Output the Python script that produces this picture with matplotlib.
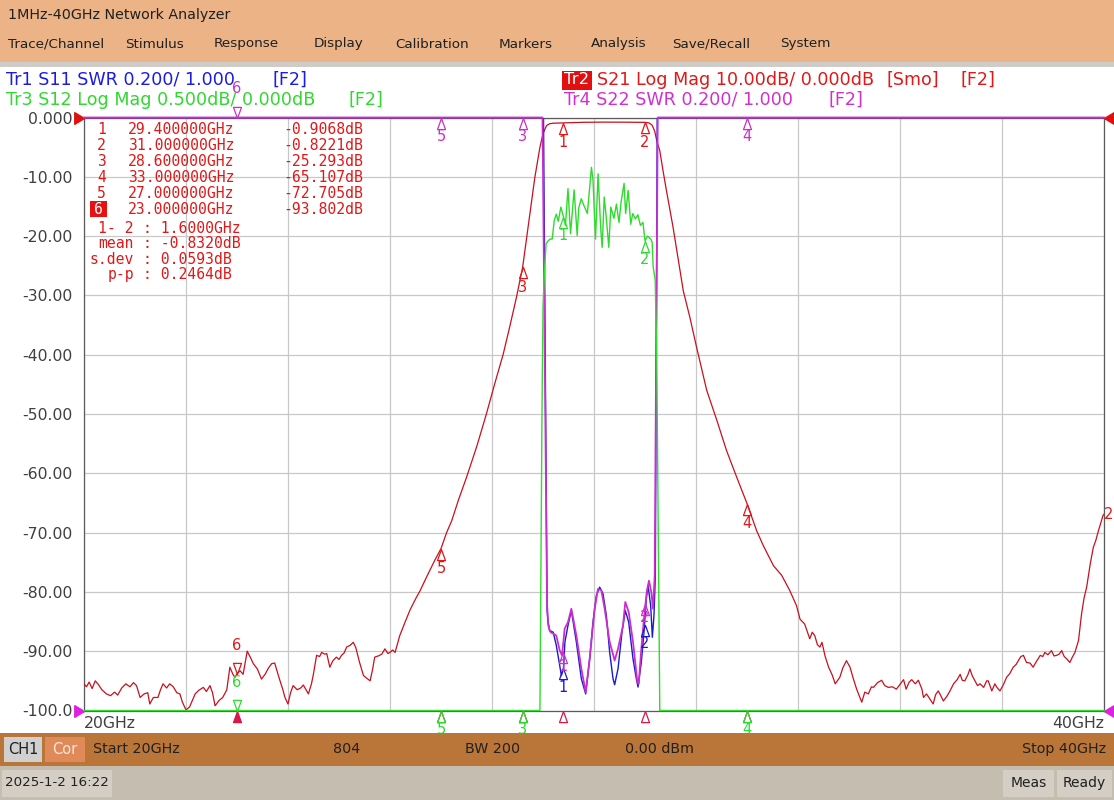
import numpy as np
import matplotlib
matplotlib.use('Agg')
import matplotlib.pyplot as plt
from matplotlib.patches import Rectangle
from matplotlib.path import Path

W, H = 1114, 800

# ---------------- data ----------------
red_freq = [20.00, 20.05, 20.10, 20.16, 20.22, 20.28, 20.35, 20.44, 20.52, 20.60, 20.66, 20.74, 20.82, 20.90,
            20.97, 21.03, 21.10, 21.18, 21.25, 21.29, 21.36, 21.45, 21.50, 21.55, 21.62, 21.68, 21.75, 21.82,
            21.88, 21.93, 22.00, 22.07, 22.12, 22.18, 22.25, 22.34, 22.40, 22.47, 22.52, 22.57, 22.65, 22.72,
            22.80, 22.86, 22.92, 22.96, 23.00, 23.06, 23.12, 23.20, 23.26, 23.32, 23.40, 23.48, 23.55, 23.62,
            23.68, 23.74, 23.79, 23.84, 23.90, 23.94, 24.00, 24.05, 24.10, 24.18, 24.25, 24.30, 24.36, 24.40,
            24.46, 24.50, 24.56, 24.62, 24.66, 24.72, 24.76, 24.82, 24.88, 24.95, 25.00, 25.05, 25.10, 25.15,
            25.22, 25.28, 25.33, 25.40, 25.48, 25.55, 25.61, 25.66, 25.70, 25.77, 25.84, 25.90, 25.96, 26.00,
            26.05, 26.10, 26.19, 26.30, 26.39, 26.50, 26.59, 26.70, 26.78, 26.87, 27.00, 27.11, 27.21, 27.35,
            27.50, 27.70, 27.89, 28.05, 28.22, 28.35, 28.48, 28.60, 28.68, 28.76, 28.84, 28.94, 29.00, 29.07,
            29.13, 29.20, 29.40, 29.60, 29.80, 30.00, 30.20, 30.40, 30.60, 30.80, 31.00, 31.08, 31.14, 31.19,
            31.23, 31.29, 31.35, 31.42, 31.55, 31.65, 31.75, 31.88, 32.01, 32.21, 32.41, 32.60, 32.80, 33.00,
            33.19, 33.32, 33.52, 33.68, 33.84, 33.97, 34.04, 34.13, 34.23, 34.28, 34.33, 34.38, 34.43, 34.47,
            34.53, 34.60, 34.67, 34.73, 34.78, 34.82, 34.88, 34.95, 35.02, 35.08, 35.15, 35.25, 35.31, 35.38,
            35.44, 35.48, 35.56, 35.64, 35.70, 35.77, 35.85, 35.93, 36.00, 36.07, 36.12, 36.18, 36.23, 36.30,
            36.36, 36.43, 36.46, 36.52, 36.58, 36.65, 36.70, 36.75, 36.80, 36.85, 36.92, 36.98, 37.05, 37.12,
            37.18, 37.22, 37.27, 37.33, 37.37, 37.42, 37.47, 37.52, 37.57, 37.64, 37.70, 37.73, 37.80, 37.86,
            37.90, 37.96, 38.03, 38.09, 38.15, 38.22, 38.28, 38.32, 38.37, 38.42, 38.48, 38.55, 38.61, 38.67,
            38.75, 38.80, 38.84, 38.90, 38.97, 39.02, 39.07, 39.12, 39.17, 39.22, 39.27, 39.33, 39.38, 39.43,
            39.50, 39.56, 39.61, 39.66, 39.70, 39.73, 39.79, 39.84, 39.89, 39.94, 39.98, 40.00]
red_db = [-95.5, -96.0, -95.2, -96.3, -95.0, -95.6, -96.5, -97.2, -97.5, -96.9, -97.4, -96.2, -95.5, -96.0,
          -95.3, -95.8, -97.8, -97.2, -97.0, -98.9, -97.8, -97.8, -96.5, -95.5, -96.2, -95.5, -96.0, -97.0,
          -97.2, -98.6, -99.9, -99.4, -98.4, -97.2, -96.6, -96.1, -96.8, -95.8, -97.0, -99.2, -98.3, -97.8,
          -96.5, -92.7, -93.9, -94.4, -93.8, -93.3, -93.9, -90.0, -91.0, -92.1, -93.0, -94.7, -93.9, -92.8,
          -92.1, -92.0, -93.5, -94.9, -96.5, -97.8, -98.9, -97.0, -95.8, -96.5, -96.2, -95.7, -96.6, -97.2,
          -95.5, -93.8, -90.7, -90.9, -90.2, -90.5, -90.4, -92.7, -91.6, -91.0, -91.4, -90.7, -90.3, -89.3,
          -89.0, -88.5, -89.4, -91.8, -94.1, -94.6, -95.0, -93.0, -91.0, -90.8, -90.5, -89.6, -90.4, -90.2,
          -89.8, -90.2, -87.4, -85.0, -83.1, -81.2, -79.8, -77.8, -76.4, -74.8, -72.7, -70.0, -68.0, -64.3,
          -60.7, -55.5, -50.0, -45.0, -39.9, -35.2, -30.3, -25.3, -20.2, -15.0, -10.1, -5.0, -2.75, -1.35,
          -1.05, -0.96, -0.91, -0.86, -0.81, -0.79, -0.78, -0.78, -0.79, -0.80, -0.82, -0.92, -1.3, -2.3,
          -3.9, -5.6, -8.8, -12.3, -18.5, -23.8, -29.2, -33.7, -38.7, -46.0, -51.1, -56.2, -60.7, -65.1,
          -69.7, -72.2, -75.6, -77.2, -79.8, -82.3, -84.6, -85.4, -87.9, -86.8, -87.4, -88.9, -89.3, -88.5,
          -90.8, -92.7, -94.0, -95.5, -94.9, -94.4, -92.8, -91.6, -92.7, -94.5, -96.4, -98.6, -96.9, -97.2,
          -96.0, -96.1, -95.3, -94.9, -95.8, -96.1, -96.0, -96.4, -95.6, -94.8, -96.4, -95.2, -94.8, -95.5,
          -94.9, -96.4, -97.8, -97.2, -98.0, -98.9, -97.3, -96.7, -97.5, -98.4, -97.6, -96.7, -95.5, -94.8,
          -93.9, -94.9, -95.0, -94.0, -93.0, -94.2, -95.0, -95.8, -95.5, -96.1, -95.0, -95.0, -96.7, -95.5,
          -96.1, -96.7, -95.6, -94.4, -93.8, -92.7, -92.2, -91.6, -90.9, -90.7, -91.9, -92.0, -92.7, -91.8,
          -90.7, -90.9, -90.2, -90.6, -89.9, -90.8, -90.7, -90.5, -89.9, -90.9, -91.3, -91.9, -91.0, -90.2,
          -88.2, -83.7, -81.0, -79.2, -77.0, -75.3, -72.5, -71.3, -69.7, -68.3, -67.1, -66.9]

# S12 (Log Mag, 0.5 dB/div, displayed values clipped at -5 dB)
green_freq = [20.00, 28.94, 28.96, 28.98, 29.00, 29.03, 29.06, 29.10, 29.14, 29.18, 29.22, 29.26, 29.30, 29.35,
              29.40, 29.44, 29.49, 29.54, 29.61, 29.67, 29.70, 29.75, 29.80, 29.87, 29.95, 29.98, 30.03, 30.08,
              30.13, 30.16, 30.20, 30.24, 30.29, 30.33, 30.39, 30.44, 30.49, 30.53, 30.59, 30.62, 30.67, 30.72,
              30.76, 30.81, 30.86, 30.91, 30.96, 31.00, 31.05, 31.11, 31.14, 31.16, 31.20, 31.23, 31.26, 31.29,
              40.00]
green_db = [-5.0, -5.0, -3.75, -2.5, -1.6, -1.29, -1.065, -1.04, -1.025, -1.025, -0.87, -0.815, -0.875, -0.755,
            -0.835, -0.91, -0.60, -0.98, -0.61, -0.995, -0.765, -0.685, -0.74, -0.81, -0.42, -0.525, -1.025, -0.475,
            -0.925, -1.095, -0.67, -0.84, -1.095, -0.755, -0.85, -0.73, -0.885, -0.715, -0.555, -0.81, -0.615, -0.90,
            -0.81, -0.855, -0.82, -0.91, -0.885, -1.04, -1.00, -1.025, -1.05, -1.26, -1.37, -2.0, -3.5, -5.0,
            -5.0]

# S11 SWR (0.2/div, reference 1.000 at bottom, displayed values clipped at 3.0)
blue_freq = [20.00, 29.01, 29.08, 29.10, 29.13, 29.20, 29.26, 29.31, 29.36, 29.40, 29.43, 29.49, 29.556, 29.654,
             29.752, 29.837, 29.915, 29.98, 30.046, 30.111, 30.176, 30.242, 30.307, 30.373, 30.405, 30.471,
             30.549, 30.614, 30.68, 30.765, 30.83, 30.863, 30.928, 30.98, 31.026, 31.059, 31.111, 31.144,
             31.176, 31.203, 31.24, 40.00]
blue_swr = [3.0, 3.0, 1.34, 1.30, 1.27, 1.264, 1.22, 1.17, 1.118, 1.14, 1.231, 1.287, 1.337, 1.231,
            1.107, 1.056, 1.174, 1.298, 1.388, 1.416, 1.394, 1.321, 1.197, 1.107, 1.087, 1.141,
            1.264, 1.337, 1.298, 1.174, 1.107, 1.079, 1.163, 1.264, 1.377, 1.422, 1.354, 1.247,
            1.321, 1.455, 3.0, 3.0]

# S22 SWR
mag_freq = [20.00, 28.99, 29.08, 29.10, 29.13, 29.15, 29.26, 29.327, 29.373, 29.425, 29.49, 29.556, 29.654,
            29.752, 29.837, 29.915, 30.013, 30.078, 30.144, 30.209, 30.307, 30.405, 30.471, 30.569, 30.614,
            30.68, 30.765, 30.85, 30.876, 30.928, 30.98, 31.033, 31.078, 31.124, 31.157, 31.19, 31.25, 40.00]
mag_swr = [3.0, 3.0, 1.36, 1.29, 1.27, 1.264, 1.253, 1.203, 1.186, 1.276, 1.298, 1.343, 1.253,
           1.141, 1.062, 1.174, 1.343, 1.41, 1.405, 1.343, 1.231, 1.169, 1.208, 1.287, 1.366,
           1.332, 1.231, 1.096, 1.09, 1.208, 1.309, 1.399, 1.438, 1.399, 1.343, 1.455, 3.0, 3.0]

marker_ids = ['1', '2', '3', '4', '5', '6']
marker_freq = [29.4, 31.0, 28.6, 33.0, 27.0, 23.0]
marker_s21 = [-0.9068, -0.8221, -25.293, -65.107, -72.705, -93.802]
marker_s12 = [-0.835, -1.04, -5.0, -5.0, -5.0, -5.0]
marker_s11 = [1.142, 1.29, 3.0, 3.0, 3.0, 3.0]
marker_s22 = [1.197, 1.36, 3.0, 3.0, 3.0, 3.0]
active_marker = '6'

stat_labels = ['1- 2', 'mean', 's.dev', 'p-p']
stat_values = ['1.6000GHz', '-0.8320dB', '0.0593dB', '0.2464dB']

y_ticks = [0, -10, -20, -30, -40, -50, -60, -70, -80, -90, -100]
y_tick_labels = ['0.000', '-10.00', '-20.00', '-30.00', '-40.00', '-50.00', '-60.00', '-70.00', '-80.00',
                 '-90.00', '-100.0']
x_ticks = [20, 22, 24, 26, 28, 30, 32, 34, 36, 38, 40]

menu_items = ['Trace/Channel', 'Stimulus', 'Response', 'Display', 'Calibration', 'Markers', 'Analysis',
              'Save/Recall', 'System']
menu_x = [8, 125, 214, 314, 395, 499, 591, 672, 780]

# ---------------- style ----------------
TRACE_RED = '#C8101E'
GREEN = '#2EDC2E'
BLUE = '#1A1AD0'
MAG = '#CC2ECC'
TXT_BLUE = '#1C1CE0'
TXT_GREEN = '#30D830'
TXT_RED = '#E01818'
TXT_MAG = '#D030D0'

plt.rcParams['font.family'] = ['DejaVu Sans']

fig = plt.figure(figsize=(W / 100, H / 100), dpi=100)
fig.patch.set_facecolor('white')


def fx(x):
    return x / W


def fy(y):
    return 1 - y / H


def rect(x0, y0, x1, y1, color, z=-5):
    fig.add_artist(Rectangle((fx(x0), fy(y1)), (x1 - x0) / W, (y1 - y0) / H, transform=fig.transFigure,
                             facecolor=color, edgecolor='none', linewidth=0, zorder=z))


def ftext(x, y, s, color='#202020', size=10, ha='left', va='center', family=None, z=10, **kw):
    kw2 = dict(color=color, fontsize=size, ha=ha, va=va, zorder=z)
    if family:
        kw2['family'] = family
    kw2.update(kw)
    fig.text(fx(x), fy(y), s, **kw2)


# backgrounds
rect(0, 0, W, 62, '#EBB386')
rect(0, 62, W, 67, '#CFCCC8')
rect(0, 67, W, 733, 'white')
rect(0, 733, W, 766, '#BA7638', z=20)
rect(0, 766, W, H, '#C4BDB0', z=20)

# title + menu
ftext(8, 15, '1MHz-40GHz Network Analyzer', size=10.3)
for s, x in zip(menu_items, menu_x):
    ftext(x, 44, s, size=9.7)

# trace header lines
HS = 12.6
ftext(6, 80, 'Tr1 S11 SWR 0.200/ 1.000', color=TXT_BLUE, size=HS)
ftext(272, 80, '[F2]', color=TXT_BLUE, size=HS)
ftext(6, 100, 'Tr3 S12 Log Mag 0.500dB/ 0.000dB', color=TXT_GREEN, size=HS)
ftext(348, 100, '[F2]', color=TXT_GREEN, size=HS)
rect(562, 71, 592, 90, '#E01010', z=-4)
ftext(564, 80, 'Tr2', color='white', size=HS - 0.8)
ftext(597, 80, 'S21 Log Mag 10.00dB/ 0.000dB', color=TXT_RED, size=HS)
ftext(887, 80, '[Smo]', color=TXT_RED, size=HS)
ftext(960, 80, '[F2]', color=TXT_RED, size=HS)
ftext(564, 100, 'Tr4 S22 SWR 0.200/ 1.000', color=TXT_MAG, size=HS)
ftext(829, 100, '[F2]', color=TXT_MAG, size=HS)

# ---------------- axes ----------------
X0, X1, Y0, Y1 = 84, 1104, 117.5, 710.5
ax = fig.add_axes([fx(X0), fy(Y1), (X1 - X0) / W, (Y1 - Y0) / H])
ax.set_facecolor('none')
ax.set_xlim(20, 40)
ax.set_ylim(-100, 0)
ax.set_xticks(x_ticks)
ax.set_yticks(y_ticks)
ax.set_yticklabels(y_tick_labels)
ax.tick_params(axis='y', length=0, pad=8, labelsize=11.3, labelcolor='#404040')
ax.tick_params(axis='x', length=0, labelbottom=False)
ax.grid(True, color='#C8C8C8', linewidth=0.9)
ax.set_axisbelow(True)
for sp in ax.spines.values():
    sp.set_color('#5A5A5A')
    sp.set_linewidth(0.9)

ax.plot(red_freq, red_db, color=TRACE_RED, linewidth=0.9, zorder=3)

axs = ax.twinx()
axs.set_ylim(1.0, 3.0)
axs.set_xlim(20, 40)
axs.axis('off')
axg = ax.twinx()
axg.set_ylim(-5.0, 0.0)
axg.set_xlim(20, 40)
axg.axis('off')

axs.plot(blue_freq, blue_swr, color=BLUE, linewidth=1.0, clip_on=True, zorder=3)
axs.plot(mag_freq, mag_swr, color=MAG, linewidth=1.3, clip_on=False, zorder=4)
axg.plot(green_freq, green_db, color=GREEN, linewidth=1.0, clip_on=False, zorder=3)

tri_up = Path([(0, 0), (-0.36, -1), (0.36, -1), (0, 0)],
              [Path.MOVETO, Path.LINETO, Path.LINETO, Path.CLOSEPOLY])
tri_dn = Path([(0, 0), (-0.36, 1), (0.36, 1), (0, 0)],
              [Path.MOVETO, Path.LINETO, Path.LINETO, Path.CLOSEPOLY])
arrow_r = Path([(0, 0), (-1, 0.6), (-1, -0.6), (0, 0)],
               [Path.MOVETO, Path.LINETO, Path.LINETO, Path.CLOSEPOLY])
arrow_l = Path([(0, 0), (1, 0.6), (1, -0.6), (0, 0)],
               [Path.MOVETO, Path.LINETO, Path.LINETO, Path.CLOSEPOLY])


def marker(axx, f, v, label, color, up=True, filled=False, dy=19, show=True, z=6):
    axx.plot([f], [v], linestyle='none', marker=tri_up if up else tri_dn, markersize=16,
             markerfacecolor=color if filled else 'none', markeredgecolor=color, markeredgewidth=0.9,
             clip_on=False, zorder=z)
    if show:
        axx.annotate(label, (f, v), xytext=(0, -dy if up else dy), textcoords='offset pixels',
                     ha='center', va='center', color=color, fontsize=10.5, annotation_clip=False, zorder=z)


# bottom stimulus indicators for the active trace
for mid, f in zip(marker_ids, marker_freq):
    marker(ax, f, -100, mid, '#D81848', up=True, filled=(mid == active_marker), show=False, z=5)

# S11 markers: those clipped at the top lie hidden beneath the S22 ones
for mid, f, v in zip(marker_ids, marker_freq, marker_s11):
    if v < 3.0:
        marker(axs, f, v, mid, BLUE, up=True, dy=19, z=5)
for mid, f, v in zip(marker_ids, marker_freq, marker_s22):
    act = mid == active_marker
    marker(axs, f, v, mid, MAG, up=not act, dy=29 if act else (14 if v < 3 else 19))
for mid, f, v in zip(marker_ids, marker_freq, marker_s12):
    act = mid == active_marker
    marker(axg, f, v, mid, GREEN, up=not act, dy=28 if act else 19)
for mid, f, v in zip(marker_ids, marker_freq, marker_s21):
    act = mid == active_marker
    marker(ax, f, v, mid, TXT_RED, up=not act, dy=28 if act else 20)

# reference position indicators
ax.plot([20], [0], linestyle='none', marker=arrow_r, markersize=14, color='#E01010', clip_on=False, zorder=7)
ax.plot([40], [0], linestyle='none', marker=arrow_l, markersize=14, color='#E01010', clip_on=False, zorder=7)
axs.plot([20], [1.0], linestyle='none', marker=arrow_r, markersize=14, color='#E020E0', clip_on=False, zorder=7)
axs.plot([40], [1.0], linestyle='none', marker=arrow_l, markersize=14, color='#E020E0', clip_on=False, zorder=7)
ax.annotate('2', (red_freq[-1], red_db[-1]), xytext=(0, 0), textcoords='offset pixels', ha='left',
            va='center', color=TXT_RED, fontsize=10.5, annotation_clip=False)

# x end labels
ax.text(0.0, -0.022, '20GHz', transform=ax.transAxes, ha='left', va='center', fontsize=11.3, color='#404040')
ax.text(1.0, -0.022, '40GHz', transform=ax.transAxes, ha='right', va='center', fontsize=11.3, color='#404040')

# ---------------- marker table ----------------
MONO = 'DejaVu Sans Mono'
TS = 10.6
for i, (mid, f, v) in enumerate(zip(marker_ids, marker_freq, marker_s21)):
    y = 129 + 16 * i
    if mid == active_marker:
        rect(90, y - 8, 107, y + 8, '#E81010', z=8)
        ftext(98.5, y, mid, color='white', size=TS, ha='center', family=MONO, z=12)
    else:
        ftext(101.5, y, mid, color=TXT_RED, size=TS, ha='center', family=MONO, z=12)
    ftext(128, y, f'{f:.6f}GHz', color=TXT_RED, size=TS, family=MONO, z=12)
    vs = f'{v:.4f}dB' if abs(v) < 10 else f'{v:.3f}dB'
    ftext(283, y, vs, color=TXT_RED, size=TS, family=MONO, z=12)

for i, (lab, val) in enumerate(zip(stat_labels, stat_values)):
    y = 228.5 + 15.3 * i
    ftext(134, y, lab, color=TXT_RED, size=TS, ha='right', family=MONO, z=12)
    ftext(143, y, ': ' + val, color=TXT_RED, size=TS, family=MONO, z=12)

# ---------------- bottom bars ----------------
rect(4, 737, 42, 762, '#D0D0D0', z=21)
ftext(23, 749, 'CH1', size=10.5, ha='center', z=22)
rect(45, 737, 85, 762, '#E08A5A', z=21)
ftext(65, 749, 'Cor', color='#F5E8DC', size=10.5, ha='center', z=22)
ftext(93, 749, 'Start 20GHz', size=10.3, z=22)
ftext(347, 749, '804', size=10.3, ha='center', z=22)
ftext(465, 749, 'BW 200', size=10.3, z=22)
ftext(625, 749, '0.00 dBm', size=10.3, z=22)
ftext(1106, 749, 'Stop 40GHz', size=10.3, ha='right', z=22)

rect(2, 770, 112, 797, '#D4CEC4', z=21)
ftext(57, 783, '2025-1-2 16:22', size=9.6, ha='center', z=22)
rect(1003, 770, 1054, 797, '#D4CEC4', z=21)
ftext(1028.5, 783, 'Meas', size=10, ha='center', z=22)
rect(1057, 770, 1112, 797, '#D4CEC4', z=21)
ftext(1084.5, 783, 'Ready', size=10, ha='center', z=22)

fig.savefig('out.png', dpi=100)
